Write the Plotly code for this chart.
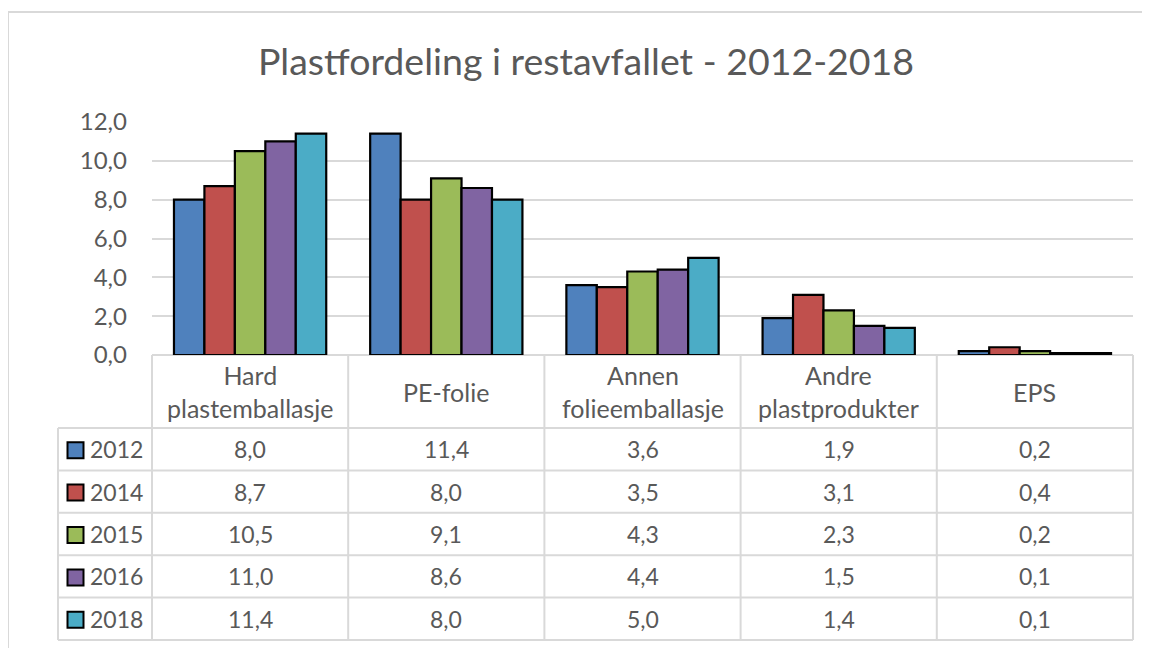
import plotly.graph_objects as go

# ---- data ----
categories = ["Hard plastemballasje", "PE-folie", "Annen folieemballasje",
              "Andre plastprodukter", "EPS"]
header_labels = ["Hard<br>plastemballasje", "PE-folie", "Annen<br>folieemballasje",
                 "Andre<br>plastprodukter", "EPS"]
years = ["2012", "2014", "2015", "2016", "2018"]
v2012 = [8.0, 11.4, 3.6, 1.9, 0.2]
v2014 = [8.7, 8.0, 3.5, 3.1, 0.4]
v2015 = [10.5, 9.1, 4.3, 2.3, 0.2]
v2016 = [11.0, 8.6, 4.4, 1.5, 0.1]
v2018 = [11.4, 8.0, 5.0, 1.4, 0.1]
series = [v2012, v2014, v2015, v2016, v2018]
colors = ["#4F81BD", "#C0504D", "#9BBB59", "#8064A2", "#4BACC6"]
y_ticks = [0, 2, 4, 6, 8, 10, 12]
title_text = "Plastfordeling i restavfallet - 2012-2018"

FONT = "Lato"
TXT = "#595959"
GRID = "#d9d9d9"

# ---- geometry (pixels, in page coordinates; page body has an 8px margin) ----
OFF = 8
PAGE_W, PAGE_H = 1150, 648
FIG_W, FIG_H = PAGE_W - OFF, PAGE_H - OFF
PLOT_L, PLOT_R, PLOT_T, PLOT_B = 152, 1133, 122, 355
L, R, T, B = PLOT_L - OFF, PAGE_W - PLOT_R, PLOT_T - OFF, PAGE_H - PLOT_B
W = FIG_W - L - R
H = FIG_H - T - B
XR = [-0.5, len(categories) - 0.5]


def px(p):
    return (p - PLOT_L) / W


def py(p):
    return (PLOT_B - p) / H


def cat_paper(i):
    return (i - XR[0]) / (XR[1] - XR[0])


fig = go.Figure()
for name, vals, col in zip(years, series, colors):
    fig.add_trace(go.Bar(
        x=list(range(len(categories))), y=vals, name=name,
        marker=dict(color=col, line=dict(color="black", width=2.2)),
        hoverinfo="x+y",
    ))

shapes = []
annotations = []

top = PLOT_B              # 355
header_bottom = 428
table_bottom = 640
row_h = (table_bottom - header_bottom) / len(years)
left_col = 58
line = dict(color=GRID, width=2)

# horizontal lines
shapes.append(dict(type="line", xref="paper", yref="paper",
                   x0=cat_paper(-0.5), x1=cat_paper(len(categories) - 0.5),
                   y0=py(top), y1=py(top), line=line, layer="below"))
for k in range(len(years) + 1):
    yy = header_bottom + k * row_h
    shapes.append(dict(type="line", xref="paper", yref="paper",
                       x0=px(left_col), x1=cat_paper(len(categories) - 0.5),
                       y0=py(yy), y1=py(yy), line=line, layer="below"))
# vertical lines
for i in range(len(categories) + 1):
    xx = cat_paper(i - 0.5)
    shapes.append(dict(type="line", xref="paper", yref="paper",
                       x0=xx, x1=xx, y0=py(top), y1=py(table_bottom), line=line,
                       layer="below"))
shapes.append(dict(type="line", xref="paper", yref="paper",
                   x0=px(left_col), x1=px(left_col), y0=py(header_bottom),
                   y1=py(table_bottom), line=line, layer="below"))

# header labels
hc = (top + header_bottom) / 2
for i, lab in enumerate(header_labels):
    annotations.append(dict(xref="paper", yref="paper", x=cat_paper(i),
                            y=py(hc), text=lab, showarrow=False,
                            xanchor="center", yanchor="middle",
                            font=dict(family=FONT, size=25, color=TXT)))

# rows
for k, (name, vals, col) in enumerate(zip(years, series, colors)):
    yc = header_bottom + (k + 0.5) * row_h
    shapes.append(dict(type="rect", xref="paper", yref="paper",
                       x0=px(67.5), x1=px(83.5), y0=py(yc - 7), y1=py(yc + 9),
                       fillcolor=col, line=dict(color="black", width=2)))
    annotations.append(dict(xref="paper", yref="paper", x=px(88), y=py(yc),
                            text=name, showarrow=False, xanchor="left", yanchor="middle",
                            font=dict(family=FONT, size=23, color=TXT)))
    for i, v in enumerate(vals):
        annotations.append(dict(xref="paper", yref="paper", x=cat_paper(i), y=py(yc),
                                text=f"{v:.1f}".replace(".", ","), showarrow=False,
                                xanchor="center", yanchor="middle",
                                font=dict(family=FONT, size=23, color=TXT)))

# outer chart border
shapes.append(dict(type="rect", xref="paper", yref="paper",
                   x0=px(8), x1=px(1170), y0=py(12), y1=py(670),
                   line=dict(color=GRID, width=2), fillcolor="rgba(0,0,0,0)",
                   layer="below"))

fig.update_layout(
    width=FIG_W, height=FIG_H, autosize=False,
    margin=dict(l=L, r=R, t=T, b=B),
    paper_bgcolor="white", plot_bgcolor="rgba(0,0,0,0)",
    barmode="group", bargap=0.224, bargroupgap=0,
    showlegend=False,
    separators=", ",
    title=dict(text=title_text, x=(586 - OFF) / FIG_W, xref="container",
               xanchor="center", y=1 - (62 - OFF) / FIG_H, yref="container",
               yanchor="middle",
               font=dict(family=FONT, size=37.5, color=TXT)),
    xaxis=dict(range=XR, showticklabels=False, showgrid=False, zeroline=False,
               showline=False, fixedrange=True),
    yaxis=dict(range=[0, 12], tickvals=y_ticks, tickformat=".1f", showgrid=True,
               gridcolor=GRID, gridwidth=2, zeroline=False, showline=False,
               ticks="", ticklabelstandoff=24,
               tickfont=dict(family=FONT, size=24, color=TXT)),
    shapes=shapes, annotations=annotations,
    font=dict(family=FONT, color=TXT),
)

fig.write_html("out.html")
